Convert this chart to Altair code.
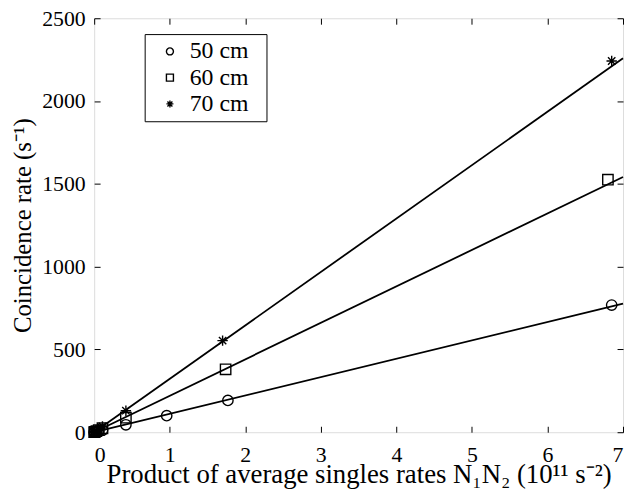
import altair as alt
import pandas as pd

# ---- data ----
series = ["50 cm", "60 cm", "70 cm"]

x_50 = [0.0, 0.01, 0.03, 0.06, 0.11, 0.42, 0.96, 1.77, 6.85]
y_50 = [0, 1, 3, 7, 12, 45, 100, 192, 768]

x_60 = [0.0, 0.01, 0.03, 0.06, 0.11, 0.42, 1.74, 6.80]
y_60 = [0, 2, 6, 13, 24, 88, 380, 1525]

x_70 = [0.0, 0.01, 0.03, 0.06, 0.11, 0.42, 1.70, 6.85]
y_70 = [0, 3, 9, 19, 35, 130, 553, 2242]

# fitted straight lines (end points)
fit_x = [0, 7]
fit_50 = [0, 777]
fit_60 = [0, 1541]
fit_70 = [0, 2258]

x_ticks = [0, 1, 2, 3, 4, 5, 6, 7]
y_ticks = [0, 500, 1000, 1500, 2000, 2500]

# ---- tables ----
rows = []
for name, xs, ys in zip(series, [x_50, x_60, x_70], [y_50, y_60, y_70]):
    for a, b in zip(xs, ys):
        rows.append({"x": a, "y": b, "series": name})
points = pd.DataFrame(rows)

lrows = []
for name, ys in zip(series, [fit_50, fit_60, fit_70]):
    for a, b in zip(fit_x, ys):
        lrows.append({"x": a, "y": b, "series": name})
lines = pd.DataFrame(lrows)

FONT = "Liberation Serif"
FS = 22
TICK = 6
asterisk = "M-1,0L1,0M0,-1L0,1M-0.71,-0.71L0.71,0.71M-0.71,0.71L0.71,-0.71"

xscale = alt.Scale(domain=[0, 7], nice=False, zero=False)
yscale = alt.Scale(domain=[0, 2500], nice=False)

common = dict(
    grid=False, domain=False, ticks=True, tickSize=TICK, offset=-TICK,
    tickColor="black", tickWidth=1, format="d",
    labelFont=FONT, labelFontSize=FS, labelColor="black",
    titleFont=FONT, titleColor="black",
    titleFontWeight="normal",
)

pts = alt.Chart(points).mark_point(
    filled=False, color="black", strokeWidth=1.4, size=110, opacity=1
).encode(
    x=alt.X("x:Q", scale=xscale, axis=alt.Axis(
        orient="bottom", values=x_ticks, labelPadding=30, labelBaseline="alphabetic",
        titleFontSize=27, titleBaseline="alphabetic", titleY=57,
        title="Product of average singles rates N\u2081N\u2082 (10\u00b9\u00b9 s\u207b\u00b2)",
        **common)),
    y=alt.Y("y:Q", scale=yscale, axis=alt.Axis(
        orient="left", values=y_ticks, labelPadding=9, titlePadding=6,
        titleFontSize=25,
        title="Coincidence rate (s\u207b\u00b9)", **common)),
    shape=alt.Shape("series:N", scale=alt.Scale(
        domain=series, range=["circle", "square", asterisk]),
        legend=alt.Legend(
            title=None, orient="none", legendX=51, legendY=16,
            strokeColor="black", fillColor="white", padding=5.5,
            labelFont=FONT, labelFontSize=24, labelColor="black",
            labelExpr="datum.label + '\u00a0\u00a0\u200b'",
            symbolSize=50, symbolStrokeColor="black", symbolFillColor="transparent",
            symbolStrokeWidth=1.4, symbolOffset=8, labelOffset=8, rowPadding=2.5,
        )),
)

fit = alt.Chart(lines).mark_line(color="black", strokeWidth=1.8).encode(
    x=alt.X("x:Q", scale=xscale, axis=alt.Axis(
        orient="top", values=x_ticks, labels=False, title=None, **common)),
    y=alt.Y("y:Q", scale=yscale, axis=alt.Axis(
        orient="right", values=y_ticks, labels=False, title=None, **common)),
    detail="series:N",
)

chart = alt.layer(fit, pts).resolve_axis(x="independent", y="independent").properties(
    width=534, height=418,
    autosize=alt.AutoSizeParams(type="none"),
    padding={"left": 87, "top": 8, "right": 2, "bottom": 57},
).configure_view(stroke="black", strokeWidth=1.2).configure(background="white")

chart.save("out.html", embed_options={"renderer": "svg", "actions": False})
